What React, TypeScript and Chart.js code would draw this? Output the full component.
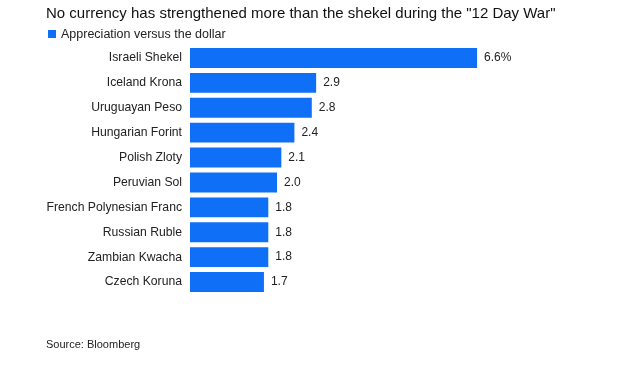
import React, { useEffect, useRef } from "react";
import { Chart, registerables } from "chart.js";

Chart.register(...registerables);

const categories = [
  "Israeli Shekel",
  "Iceland Krona",
  "Uruguayan Peso",
  "Hungarian Forint",
  "Polish Zloty",
  "Peruvian Sol",
  "French Polynesian Franc",
  "Russian Ruble",
  "Zambian Kwacha",
  "Czech Koruna",
];
const values = [6.6, 2.9, 2.8, 2.4, 2.1, 2.0, 1.8, 1.8, 1.8, 1.7];
const valueLabels = ["6.6%", "2.9", "2.8", "2.4", "2.1", "2.0", "1.8", "1.8", "1.8", "1.7"];
const seriesName = "Appreciation versus the dollar";
const titleText = 'No currency has strengthened more than the shekel during the "12 Day War"';
const sourceText = "Source: Bloomberg";

const FONT = "'Liberation Sans', Arial, Helvetica, sans-serif";
const BLUE = "#106ff7";

export default function App() {
  const ref = useRef<HTMLCanvasElement | null>(null);
  useEffect(() => {
    if (!ref.current) return;
    const textPlugin = {
      id: "textPlugin",
      afterDatasetsDraw(chart: any) {
        const ctx = chart.ctx;
        const meta = chart.getDatasetMeta(0);
        ctx.save();
        ctx.font = `12px ${FONT}`;
        ctx.fillStyle = "#222";
        ctx.textAlign = "left";
        ctx.textBaseline = "middle";
        meta.data.forEach((el: any, i: number) => {
          ctx.fillText(valueLabels[i], el.x + 7, el.y);
        });
        ctx.restore();
      },
      afterDraw(chart: any) {
        const ctx = chart.ctx;
        ctx.save();
        ctx.textAlign = "left";
        ctx.textBaseline = "alphabetic";
        // title
        ctx.font = `15px ${FONT}`;
        ctx.fillStyle = "#111";
        ctx.fillText(titleText, 46, 18);
        // legend
        const ds = chart.data.datasets[0];
        ctx.fillStyle = ds.backgroundColor;
        ctx.fillRect(48, 30, 8, 8);
        ctx.font = `12.5px ${FONT}`;
        ctx.fillStyle = "#222";
        ctx.fillText(ds.label, 61, 38);
        // source
        ctx.font = `11px ${FONT}`;
        ctx.fillStyle = "#222";
        ctx.fillText(sourceText, 46, 348);
        ctx.restore();
      },
    };
    const chart = new Chart(ref.current, {
      type: "bar",
      data: {
        labels: categories,
        datasets: [
          {
            label: seriesName,
            data: values,
            backgroundColor: BLUE,
            borderWidth: 0,
            categoryPercentage: 0.8,
            barPercentage: 1,
          },
        ],
      },
      options: {
        indexAxis: "y",
        responsive: false,
        animation: false,
        layout: { padding: { left: 30, right: 90, top: 45.5, bottom: 71.5 } },
        plugins: {
          title: { display: false },
          legend: { display: false },
          tooltip: { enabled: false },
        },
        scales: {
          x: { display: false, min: 0, max: 8 },
          y: {
            afterFit(scale: any) {
              scale.width = 160;
            },
            grid: { display: false, drawTicks: false },
            border: { display: false },
            ticks: {
              padding: 8,
              color: "#222",
              font: { family: FONT, size: 12.2 },
            },
          },
        },
      },
      plugins: [textPlugin],
    });
    return () => chart.destroy();
  }, []);
  return (
    <div style={{ position: "absolute", left: 0, top: 0, width: 628, height: 366, background: "#fff" }}>
      <canvas ref={ref} width={628} height={366} />
    </div>
  );
}
